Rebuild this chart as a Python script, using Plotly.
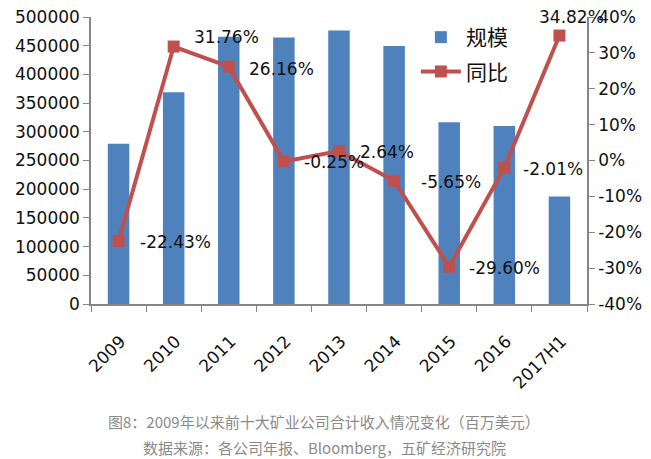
import plotly.graph_objects as go

categories = ["2009", "2010", "2011", "2012", "2013", "2014", "2015", "2016", "2017H1"]
scale_values = [279000, 369000, 465500, 464300, 476500, 449500, 316800, 310300, 187500]
yoy_values = [-22.43, 31.76, 26.16, -0.25, 2.64, -5.65, -29.60, -2.01, 34.82]
yoy_labels = ["-22.43%", "31.76%", "26.16%", "-0.25%", "2.64%", "-5.65%", "-29.60%", "-2.01%", "34.82%"]
left_ticks = list(range(0, 500001, 50000))
right_ticks = list(range(-40, 41, 10))

# label placement (styling, pixels)
label_xshift = [19, 18, 18, 18, 19, 25, 18, 17, 12]
label_yshift = [-1, 10, -2, -1, -1, -1, -1, -1, 19]
label_xanchor = ["left"] * 8 + ["center"]

FONT = "DejaVu Sans"
CJK = "Noto Sans CJK SC"

# the page body adds an 8px offset; compensate so the picture lines up with the window
OFF = 8
W, H = 651 - OFF, 459 - OFF
ML, MT, MR, MB = 91 - OFF, 17 - OFF, 64, 155

fig = go.Figure()
fig.add_trace(go.Bar(
    x=categories, y=scale_values, name="规模", legendgroup="a",
    marker=dict(color="#4f81bd", line=dict(width=0)),
    yaxis="y",
))
fig.add_trace(go.Scatter(
    x=categories, y=yoy_values, name="同比", mode="lines+markers", legendgroup="b",
    line=dict(color="#c0504d", width=4),
    marker=dict(symbol="square", size=12, color="#c0504d"),
    yaxis="y2", cliponaxis=False,
))

annotations = []
for i, (v, t, dx, dy, xa) in enumerate(zip(yoy_values, yoy_labels, label_xshift, label_yshift, label_xanchor)):
    annotations.append(dict(
        x=i, y=v, xref="x", yref="y2", text=t, showarrow=False,
        xanchor=xa, yanchor="middle", xshift=dx, yshift=dy,
        font=dict(family=FONT, size=17, color="#111111"),
    ))

plot_h = H - MT - MB
plot_w = W - ML - MR
for text, ypx in [("图8：2009年以来前十大矿业公司合计收入情况变化（百万美元）", 421),
                  ("数据来源：各公司年报、Bloomberg，五矿经济研究院", 447)]:
    annotations.append(dict(
        text=text, xref="paper", yref="paper",
        x=(324 - 91) / plot_w, y=(304 - ypx) / plot_h,
        xanchor="center", yanchor="middle", showarrow=False,
        font=dict(family=CJK, size=15, color="#8a8a8a"),
    ))

fig.update_layout(
    width=W, height=H,
    margin=dict(l=ML, r=MR, t=MT, b=MB, autoexpand=False),
    paper_bgcolor="white", plot_bgcolor="white",
    bargap=0.61,
    showlegend=True,
    legend=dict(x=0.655, y=1.0, xanchor="left", yanchor="top",
                bgcolor="rgba(0,0,0,0)", font=dict(family=CJK, size=21, color="#111111"),
                itemwidth=40, tracegroupgap=4, traceorder="grouped"),
    xaxis=dict(
        type="category", range=[-0.5, len(categories) - 0.5], tickangle=-45, tickson="boundaries",
        ticks="outside", ticklen=6, tickcolor="#868686",
        showline=True, linecolor="#868686", linewidth=1.5,
        tickfont=dict(family=FONT, size=17, color="#111111"),
        ticklabelstandoff=19, ticklabelshift=2,
        showgrid=False, automargin=False,
    ),
    yaxis=dict(
        range=[0, 500000], tickvals=left_ticks, ticktext=[str(v) for v in left_ticks],
        ticks="outside", ticklen=6, tickcolor="#868686",
        showline=True, linecolor="#868686", linewidth=1.5,
        tickfont=dict(family=FONT, size=17, color="#111111"),
        ticklabeloverflow="allow",
        showgrid=False, zeroline=False, automargin=False,
    ),
    yaxis2=dict(
        range=[-40, 40], overlaying="y", side="right",
        tickvals=right_ticks, ticktext=[f"{v}%" for v in right_ticks],
        ticks="outside", ticklen=6, tickcolor="#868686",
        showline=True, linecolor="#868686", linewidth=1.5,
        tickfont=dict(family=FONT, size=17, color="#111111"),
        ticklabeloverflow="allow",
        showgrid=False, zeroline=False, automargin=False,
    ),
    annotations=annotations,
)

fig.write_html("out.html")
